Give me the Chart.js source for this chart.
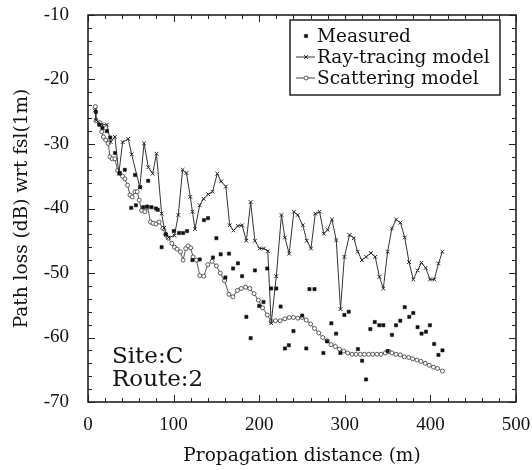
<!DOCTYPE html>
<html>
<head>
<meta charset="utf-8">
<script src="https://cdn.jsdelivr.net/npm/chart.js@4.4.1/dist/chart.umd.min.js"></script>
<style>
  html, body { margin: 0; padding: 0; background: #fff; }
  #wrap { width: 532px; height: 470px; }
</style>
</head>
<body>
<div id="wrap"><canvas id="chart" width="532" height="470"></canvas></div>
<script>
// Measured path loss
const measDist = [9.3, 13, 17, 22, 26, 31.5, 37, 43, 50.5, 55, 56, 61, 64.5, 69, 70.3, 74.2, 79.3, 81.5,
  86, 90.9, 100.2, 106.4, 111.1, 115.7, 122, 130.5, 135.5, 140.2, 146, 150, 155, 160.5, 164.7, 169.5,
  175.2, 180, 185, 190, 195, 200, 205, 209.4, 214, 220, 225, 230, 234.6, 240, 250.2, 255, 258.7, 264.6,
  275, 279.3, 284.3, 289.8, 294.9, 299.5, 304.6, 315.3, 320.2, 324.8, 329.8, 335, 340.3, 345, 350,
  355.1, 359.8, 364.8, 370, 375.3, 380, 385, 389.7, 394.8, 399.4, 404.4, 409.4, 414.1];
const measLoss = [-25.0, -27.0, -27.5, -28.0, -29.0, -31.4, -34.5, -34.0, -39.9, -34.8, -39.5, -36.7, -39.8, -39.7, -35.7, -39.8, -40.0, -40.2,
  -46.0, -44.0, -43.5, -43.8, -43.8, -43.5, -48.0, -47.9, -41.8, -41.5, -47.6, -44.6, -47.1, -50.7, -47.0, -49.3,
  -48.5, -50.5, -56.8, -60.1, -49.6, -55.1, -54.5, -49.3, -52.4, -52.4, -55.2, -61.7, -61.2, -59.0, -56.6, -61.7, -52.5, -52.5,
  -62.4, -60.6, -57.8, -59.4, -62.4, -56.5, -56.0, -61.8, -63.6, -66.5, -58.7, -57.6, -58.1, -58.1, -62.1,
  -59.6, -58.1, -57.4, -55.3, -56.8, -56.2, -58.4, -59.4, -59.1, -58.1, -61.0, -62.7, -62.0];

// Ray-tracing model
const rayDist = [8, 9.5, 16, 22, 26.5, 31.5, 36, 40.5, 47, 51, 60.5, 65.5, 70.5, 75.5, 80, 86, 89, 94, 101,
  105.5, 110.5, 115, 119.5, 122, 125, 130.5, 135, 140.5, 145.5, 151, 155.5, 161, 165.5, 170, 175, 180, 185,
  190, 195, 200.5, 205.5, 210, 214, 220, 226, 230, 235, 240.5, 245, 251, 255.5, 260.5, 265.5, 270.5, 275.5,
  280, 285, 290, 295, 299.5, 305.5, 310.5, 315, 320, 325, 330.5, 335.5, 340.5, 345, 350, 355, 360, 365,
  370, 375, 380, 385, 389.5, 394.5, 399.5, 404.5, 409.5, 414];
const rayLoss = [-24.8, -26.3, -27.0, -27.0, -29.7, -28.9, -34.6, -29.7, -29.2, -31.6, -36.7, -29.9, -33.6, -34.6, -31.5, -40.8, -43.0, -44.5, -44.2,
  -41.0, -34.0, -34.5, -38.2, -40.5, -43.2, -39.5, -38.5, -37.8, -37.4, -34.6, -35.8, -36.6, -42.6, -43.4, -42.7, -42.6, -45.0,
  -39.0, -45.0, -46.2, -46.2, -46.6, -57.8, -50.5, -41.0, -44.5, -47.0, -40.5, -41.0, -42.6, -45.0, -46.2, -40.8, -40.5, -43.9,
  -43.3, -41.7, -44.9, -55.6, -47.5, -44.1, -44.6, -46.7, -48.0, -47.5, -46.9, -47.5, -50.6, -52.4, -46.7, -43.1, -41.7, -42.2,
  -44.5, -48.3, -51.0, -49.6, -48.4, -49.2, -51.0, -51.0, -48.5, -46.7];

// Scattering model
const scatDist = [8.5, 9.3, 14, 16, 18, 20.6, 23.7, 25.6, 28.3, 31.5, 34.6, 37.3, 40.4, 43.1, 46.3, 49, 51.6, 54.8,
  57.5, 59.8, 62.6, 66.4, 69.6, 73, 76.1, 79.3, 83.1, 87.4, 90.9, 93.6, 97.9, 101, 104.1, 108, 111.1, 114.2,
  116.9, 120, 122.7, 126.7, 130.5, 135.2, 140, 145, 150, 154.5, 159.5, 164.7, 169.3, 174.5, 179.1, 184.1, 189,
  194, 199, 204, 209.4, 214, 219, 224.5, 230, 235, 240, 245, 250, 255, 260, 264.6, 269.6, 274.2, 279.4, 284,
  289, 293.7, 298.7, 303.4, 308.5, 313.2, 318.2, 322.8, 327.9, 332.5, 337.6, 342.3, 347.3, 352, 355, 359.8,
  364.8, 369.5, 374.6, 379.2, 384.3, 388.9, 393.9, 398.6, 403.6, 408.3, 414.1];
const scatLoss = [-24.2, -26.4, -26.7, -28.1, -28.9, -29.4, -29.9, -32.0, -32.3, -32.3, -34.1, -34.6, -35.0, -35.4, -36.4, -37.9, -38.2, -37.4,
  -37.4, -38.7, -40.3, -40.5, -39.8, -42.1, -42.3, -42.4, -42.1, -43.1, -44.1, -44.6, -45.4, -46.0, -46.3, -46.7, -48.0, -46.2,
  -45.8, -46.1, -47.5, -48.0, -50.4, -50.5, -48.7, -48.2, -48.9, -50.0, -51.2, -53.3, -53.7, -52.7, -52.4, -52.2, -52.4,
  -53.2, -54.2, -55.4, -56.5, -57.5, -57.4, -57.4, -57.1, -56.9, -56.9, -57.0, -56.9, -57.3, -57.9, -58.6, -59.3, -60.0, -60.5, -61.1,
  -61.4, -61.8, -62.1, -62.4, -62.6, -62.6, -62.6, -62.6, -62.6, -62.6, -62.6, -62.6, -62.4, -62.2, -62.4, -62.6,
  -62.7, -63.0, -63.1, -63.3, -63.5, -63.7, -64.0, -64.3, -64.6, -64.8, -65.2];

const xTitle = 'Propagation distance (m)';
const yTitle = 'Path loss (dB) wrt fsl(1m)';
const noteLines = ['Site:C', 'Route:2'];

const serif = '"DejaVu Serif", serif';
const tickFont = '"Liberation Serif", serif';
const ink = '#111';

function toPoints(xs, ys) {
    return xs.map((x, i) => ({ x: x, y: ys[i] }));
}

// box round the plot with inward ticks on all four sides
const framePlugin = {
    id: 'frame',
    afterDatasetsDraw(chart) {
        const { ctx, chartArea: a, scales } = chart;
        ctx.save();
        ctx.strokeStyle = '#222';
        ctx.lineWidth = 1;
        ctx.beginPath();
        for (let v = 0; v <= 500; v += 20) {
            const px = Math.round(scales.x.getPixelForValue(v)) + 0.5;
            const len = v % 100 === 0 ? 7 : 4;
            ctx.moveTo(px, a.bottom); ctx.lineTo(px, a.bottom - len);
            ctx.moveTo(px, a.top); ctx.lineTo(px, a.top + len);
        }
        for (let v = -70; v <= -10; v += 2) {
            const py = Math.round(scales.y.getPixelForValue(v)) + 0.5;
            const len = v % 10 === 0 ? 7 : 4;
            ctx.moveTo(a.left, py); ctx.lineTo(a.left + len, py);
            ctx.moveTo(a.right, py); ctx.lineTo(a.right - len, py);
        }
        ctx.stroke();
        ctx.lineWidth = 1.6;
        ctx.strokeRect(a.left, a.top, a.right - a.left, a.bottom - a.top);
        ctx.restore();
    }
};

// boxed legend in the upper right, built from the datasets
const legendPlugin = {
    id: 'boxLegend',
    afterDraw(chart) {
        const { ctx, chartArea: a } = chart;
        const bx = a.right - 226, by = a.top + 5, bw = 210, bh = 75;
        ctx.save();
        ctx.fillStyle = '#fff';
        ctx.fillRect(bx, by, bw, bh);
        ctx.strokeStyle = '#222';
        ctx.lineWidth = 1.5;
        ctx.strokeRect(bx, by, bw, bh);
        ctx.font = '18.5px ' + serif;
        ctx.textBaseline = 'middle';
        chart.data.datasets.forEach((ds, i) => {
            const cy = by + 16 + i * 21;
            const mx = bx + 16;
            if (ds.showLine !== false) {
                ctx.strokeStyle = ds.borderColor;
                ctx.lineWidth = 1;
                ctx.beginPath();
                ctx.moveTo(bx + 6, cy);
                ctx.lineTo(bx + 25, cy);
                ctx.stroke();
            }
            ctx.fillStyle = ds.pointBackgroundColor;
            ctx.strokeStyle = ds.pointBorderColor;
            ctx.lineWidth = ds.pointBorderWidth;
            Chart.helpers.drawPoint(ctx, {
                pointStyle: ds.pointStyle,
                radius: ds.pointRadius,
                borderWidth: ds.pointBorderWidth
            }, mx, cy);
            ctx.fillStyle = ink;
            ctx.fillText(ds.label, bx + 27, cy + 1);
        });
        ctx.restore();
    }
};

// Site / Route note in the lower left
const notePlugin = {
    id: 'note',
    afterDraw(chart) {
        const { ctx, chartArea: a } = chart;
        ctx.save();
        ctx.font = '23px ' + serif;
        ctx.fillStyle = ink;
        ctx.textBaseline = 'alphabetic';
        noteLines.forEach((t, i) => {
            ctx.fillText(t, a.left + 24, a.bottom - 39 + i * 23);
        });
        ctx.restore();
    }
};

new Chart(document.getElementById('chart'), {
    type: 'line',
    data: {
        datasets: [
            {
                label: 'Measured',
                data: toPoints(measDist, measLoss),
                showLine: false,
                pointStyle: 'rect',
                pointRadius: 2.3,
                pointBorderWidth: 0.5,
                pointBackgroundColor: '#111',
                pointBorderColor: '#111',
                borderColor: '#111',
                backgroundColor: '#111'
            },
            {
                label: 'Ray-tracing model',
                data: toPoints(rayDist, rayLoss),
                borderColor: '#333',
                borderWidth: 1,
                pointStyle: 'crossRot',
                pointRadius: 2.6,
                pointBorderWidth: 1,
                pointBorderColor: '#222',
                pointBackgroundColor: '#222',
                tension: 0
            },
            {
                label: 'Scattering model',
                data: toPoints(scatDist, scatLoss),
                borderColor: '#444',
                borderWidth: 0.9,
                pointStyle: 'circle',
                pointRadius: 2,
                pointBorderWidth: 0.8,
                pointBorderColor: '#333',
                pointBackgroundColor: '#fff',
                tension: 0
            }
        ]
    },
    options: {
        responsive: false,
        animation: false,
        devicePixelRatio: 1,
        layout: { padding: { top: 15, right: 16, left: 0, bottom: 0 } },
        plugins: {
            legend: { display: false },
            tooltip: { enabled: false }
        },
        scales: {
            x: {
                type: 'linear',
                min: 0,
                max: 500,
                ticks: {
                    stepSize: 100,
                    padding: 12,
                    color: ink,
                    font: { family: tickFont, size: 19 }
                },
                grid: { display: false, drawTicks: false },
                border: { display: false },
                title: {
                    display: true,
                    text: xTitle,
                    color: ink,
                    font: { family: serif, size: 18.5 },
                    padding: { top: 0, bottom: 3 }
                },
                afterFit(scale) {
                    scale.height = 68;
                    scale.paddingLeft = 0;
                    scale.paddingRight = 0;
                }
            },
            y: {
                type: 'linear',
                min: -70,
                max: -10,
                ticks: {
                    stepSize: 10,
                    padding: 19,
                    color: ink,
                    font: { family: tickFont, size: 19 }
                },
                grid: { display: false, drawTicks: false },
                border: { display: false },
                title: {
                    display: true,
                    text: yTitle,
                    color: ink,
                    font: { family: serif, size: 18.5 },
                    padding: { top: 11, bottom: 0 }
                },
                afterFit(scale) {
                    scale.width = 88;
                    scale.paddingTop = 0;
                    scale.paddingBottom = 0;
                }
            }
        }
    },
    plugins: [framePlugin, legendPlugin, notePlugin]
});
</script>
</body>
</html>
